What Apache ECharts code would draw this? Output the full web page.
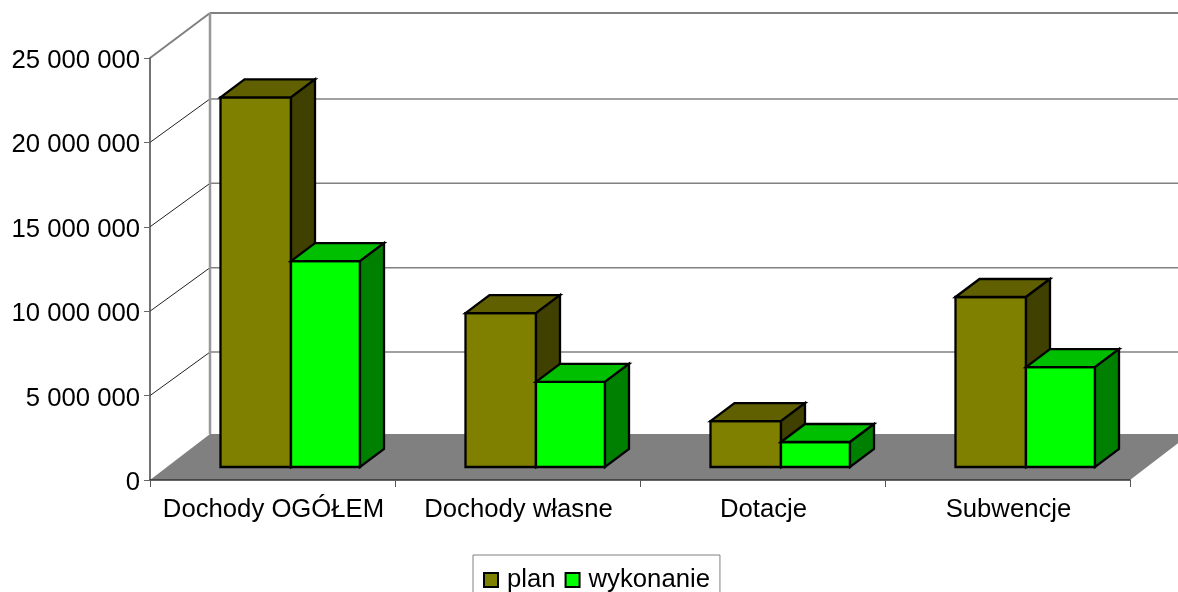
<!DOCTYPE html>
<html>
<head>
<meta charset="utf-8">
<style>html,body{margin:0;padding:0;background:#fff}#c{width:1178px;height:592px}</style>
<script src="https://cdn.jsdelivr.net/npm/echarts@6/dist/echarts.min.js"></script>
</head>
<body>
<div id="c"></div>
<script>
const categories = ['Dochody OGÓŁEM', 'Dochody własne', 'Dotacje', 'Subwencje'];
const planValues = [21900000, 9120000, 2720000, 10070000];
const wykonanieValues = [12200000, 5040000, 1480000, 5920000];
const wallTicks = [5000000, 10000000, 15000000, 20000000, 25000000];

const FONT = '"Liberation Sans", Arial, sans-serif';
const DEPTH_X = 60, DEPTH_Y = 45;
const BAR_DX = 24, BAR_DY = 18, BAR_OFF_Y = 13;
const BAR_STROKE = 2.3;

function poly(points, fill, stroke, width) {
  return { type: 'polygon', shape: { points }, style: { fill, stroke, lineWidth: width, lineJoin: 'miter' } };
}
function line(p, q, color, width) {
  return { type: 'line', shape: { x1: p[0], y1: p[1], x2: q[0], y2: q[1] }, style: { stroke: color, lineWidth: width, fill: null } };
}
function barRenderer(fromX, toX, front, top, side) {
  return function (params, api) {
    const i = api.value(0);
    const c = api.coord([i, 0]);
    const v = api.coord([i, api.value(1)]);
    const x0 = c[0] + fromX, x1 = c[0] + toX;
    const yb = c[1] - BAR_OFF_Y, yt = v[1] - BAR_OFF_Y;
    return {
      type: 'group',
      children: [
        poly([[x0, yt], [x1, yt], [x1, yb], [x0, yb]], front, '#000', BAR_STROKE),
        poly([[x0, yt], [x0 + BAR_DX, yt - BAR_DY], [x1 + BAR_DX, yt - BAR_DY], [x1, yt]], top, '#000', BAR_STROKE),
        poly([[x1, yt], [x1 + BAR_DX, yt - BAR_DY], [x1 + BAR_DX, yb - BAR_DY], [x1, yb]], side, '#000', BAR_STROKE)
      ]
    };
  };
}

const chart = echarts.init(document.getElementById('c'), null, { renderer: 'canvas' });
chart.setOption({
  animation: false,
  backgroundColor: '#fff',
  grid: { left: 150, right: 48, top: 58, bottom: 112 },
  legend: {
    left: 473, top: 555,
    padding: [12, 10, 14, 10],
    itemGap: 9,
    itemWidth: 14, itemHeight: 14,
    borderColor: '#808080', borderWidth: 1,
    textStyle: { fontFamily: FONT, fontSize: 25.7, color: '#000', padding: [0, 0, 0, 4] },
    data: [
      { name: 'plan', icon: 'rect', itemStyle: { color: '#808000', borderColor: '#000', borderWidth: 2 } },
      { name: 'wykonanie', icon: 'rect', itemStyle: { color: '#00ff00', borderColor: '#000', borderWidth: 2 } }
    ]
  },
  xAxis: {
    type: 'category', data: categories,
    axisLine: { show: true, lineStyle: { color: '#333', width: 1.5 } },
    axisTick: { show: true, length: 7, interval: 0, lineStyle: { color: '#555' } },
    axisLabel: { fontFamily: FONT, fontSize: 25.7, color: '#000', margin: 17, interval: 0, padding: [0, 0, 0, 2] },
    z: 5
  },
  yAxis: {
    type: 'value', min: 0, max: 25000000, interval: 5000000,
    axisLine: { show: true, lineStyle: { color: '#444', width: 1.5 } },
    axisTick: { show: true, length: 6, lineStyle: { color: '#666' } },
    splitLine: { show: false },
    axisLabel: {
      fontFamily: FONT, fontSize: 25.7, color: '#000', margin: 10,
      verticalAlign: 'top', lineHeight: 6,
      formatter: v => String(v).replace(/\B(?=(\d{3})+(?!\d))/g, ' ')
    },
    z: 5
  },
  series: [
    {
      name: 'floor', type: 'custom', coordinateSystem: 'cartesian2d', z: 1, silent: true,
      data: [[0, 0]], encode: { x: 0, y: 1 },
      renderItem: function (params, api) {
        const cs = params.coordSys;
        const y = api.coord([0, 0])[1];
        const a = [cs.x, y], b = [cs.x + cs.width, y];
        return poly([a, [a[0] + DEPTH_X, y - DEPTH_Y - 1], [b[0] + DEPTH_X, y - DEPTH_Y - 1], b], '#808080', 'none', 0);
      }
    },
    {
      name: 'walls', type: 'custom', coordinateSystem: 'cartesian2d', z: 1, silent: true,
      data: wallTicks.map(v => [0, v]), encode: { x: 0, y: 1 },
      renderItem: function (params, api) {
        const cs = params.coordSys;
        const y = api.coord([0, api.value(1)])[1];
        const top = y - cs.y < 1;
        const by = y - DEPTH_Y + (top ? 0 : 1.5);
        const right = cs.x + cs.width + DEPTH_X;
        const wallX = cs.x + DEPTH_X;
        const children = [
          line([cs.x, y], [wallX, by], top ? '#808080' : '#222', top ? 2 : 1),
          line([wallX, by], [right, by], '#808080', top ? 2.2 : 1.5)
        ];
        if (top) children.push(line([wallX, by], [wallX, cs.y + cs.height - DEPTH_Y - 1], '#989898', 2.5));
        return { type: 'group', children };
      }
    },
    {
      name: 'plan', type: 'custom', coordinateSystem: 'cartesian2d', z: 2,
      itemStyle: { color: '#808000' },
      data: planValues.map((v, i) => [i, v]), encode: { x: 0, y: 1 },
      renderItem: barRenderer(-52, 18.5, '#808000', '#606000', '#404000')
    },
    {
      name: 'wykonanie', type: 'custom', coordinateSystem: 'cartesian2d', z: 3,
      itemStyle: { color: '#00ff00' },
      data: wykonanieValues.map((v, i) => [i, v]), encode: { x: 0, y: 1 },
      renderItem: barRenderer(18.5, 87.5, '#00ff00', '#00bf00', '#008000')
    }
  ]
});
</script>
</body>
</html>
